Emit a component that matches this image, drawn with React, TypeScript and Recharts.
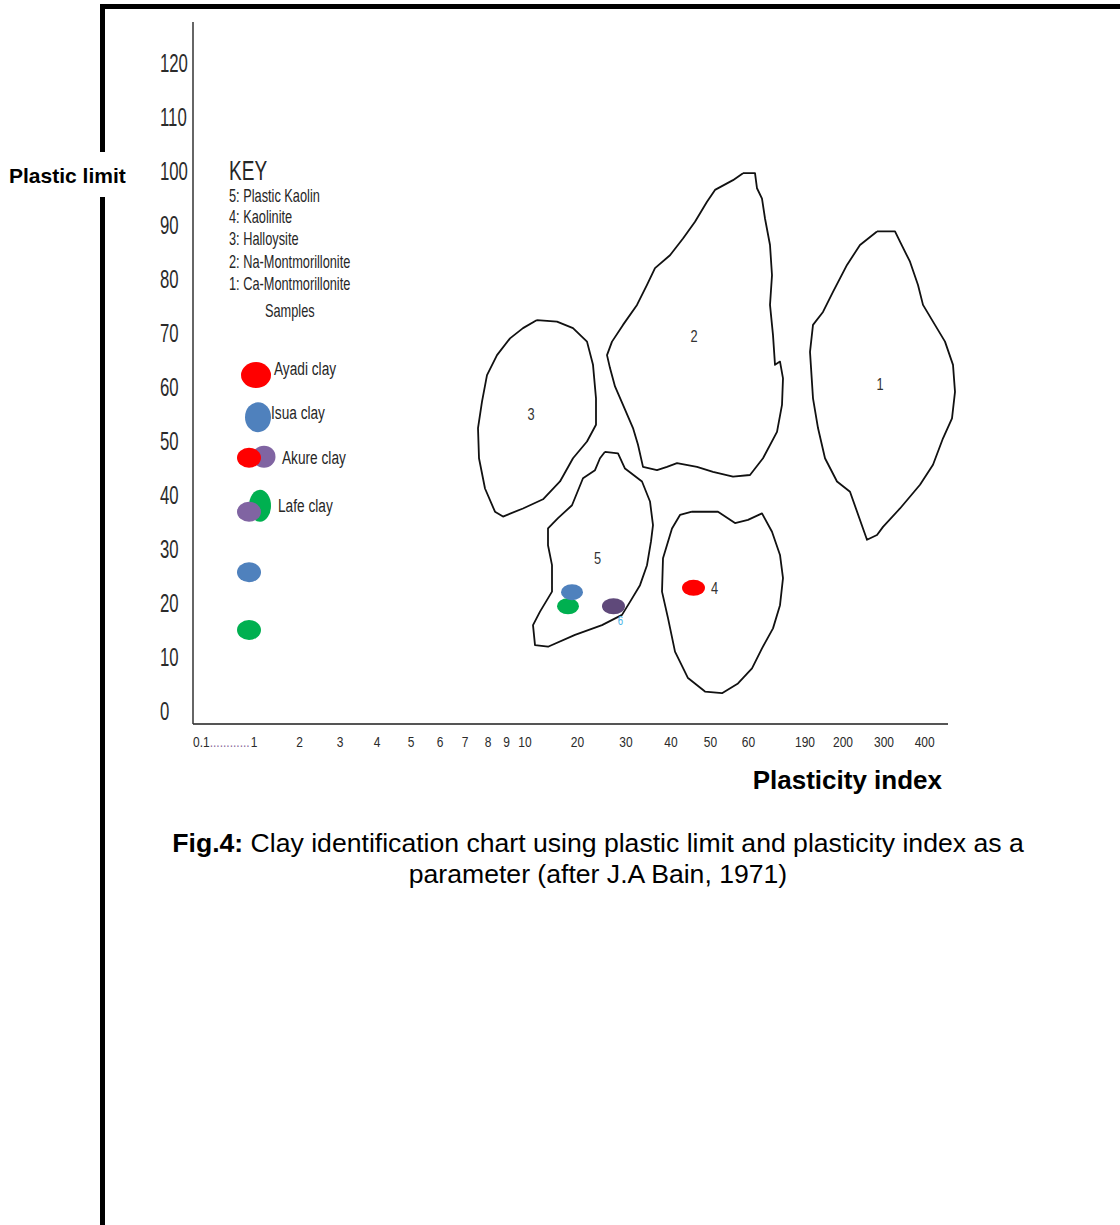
import React from 'react'
import { ScatterChart, Scatter, XAxis, YAxis, ReferenceLine } from 'recharts'

// x axis of the original is hand-spaced, so positions are in "axis units" along the bar
const xTickLabels = ['0.1', '1', '2', '3', '4', '5', '6', '7', '8', '9', '10', '20', '30', '40', '50', '60', '190', '200', '300', '400']
const xTickAt = [0, 61, 106.5, 147, 184, 218, 247, 272, 295, 313.7, 332, 384.5, 433, 478, 517.5, 555.5, 612, 650, 691, 731.7]
const yTicks = [0, 10, 20, 30, 40, 50, 60, 70, 80, 90, 100, 110, 120]

// traced outlines of the mineral fields (axis units, plastic limit)
const field1: [number, number][] = [
  [684, 88.8], [702, 88.8], [707, 86.9], [717, 83.2], [725, 78.9], [730, 75.2], [740, 72.1], [752, 68.4],
  [760, 64.1], [762, 59.1], [759, 54.2], [750, 50.5], [740, 45.6], [727, 41.9], [707, 37.5], [690, 34.1],
  [684, 32.6], [674, 31.7], [670, 33.8], [657, 40.6], [644, 42.5], [632, 46.8], [625, 52.4], [620, 57.9],
  [617, 66.5], [620, 71.5], [630, 73.9], [640, 77.6], [654, 82.6], [667, 86.3],
]
const field2: [number, number][] = [
  [550, 99.6], [562, 99.6], [564, 96.8], [569, 94.9], [572, 91.2], [577, 86.3], [579, 80.7], [577, 75.2],
  [580, 69.6], [582, 64.1], [587, 64.7], [590, 61.6], [589, 56.7], [584, 51.7], [570, 46.8], [557, 43.7],
  [540, 43.4], [520, 44.3], [504, 45.2], [484, 45.9], [474, 45.2], [464, 44.6], [450, 45.2], [445, 49.3],
  [440, 52.4], [430, 56.7], [422, 60.1], [417, 63.5], [414, 65.9], [419, 68.4], [430, 71.5], [444, 75.2],
  [454, 78.9], [462, 82.0], [477, 84.4], [490, 87.5], [502, 90.6], [514, 94.3], [522, 96.5], [540, 98.3],
]
const field3: [number, number][] = [
  [344, 72.4], [364, 72.1], [380, 70.9], [394, 68.4], [400, 64.1], [403, 57.9], [403, 53.0], [394, 49.9],
  [380, 46.8], [367, 42.5], [350, 39.2], [330, 37.5], [310, 36.0], [302, 36.9], [292, 41.2], [286, 46.8],
  [285, 52.4], [289, 57.3], [294, 62.2], [304, 65.9], [317, 69.0], [330, 70.9],
]
const field4: [number, number][] = [
  [499, 36.9], [525, 36.9], [542, 34.8], [555, 35.4], [569, 36.6], [579, 33.2], [587, 28.9], [590, 24.6],
  [587, 19.6], [580, 15.3], [569, 11.6], [559, 7.9], [545, 5.1], [529, 3.3], [512, 3.6], [495, 6.1],
  [482, 11.0], [475, 17.2], [469, 22.1], [470, 28.3], [479, 33.8], [487, 36.3],
]
const field5: [number, number][] = [
  [412, 48.0], [425, 47.7], [432, 44.9], [449, 42.5], [457, 38.8], [460, 34.4], [458, 31.4], [454, 27.0],
  [447, 23.3], [437, 20.2], [429, 17.8], [409, 15.9], [382, 14.1], [355, 11.9], [342, 12.2], [340, 15.9],
  [347, 18.4], [359, 22.1], [359, 27.0], [355, 30.7], [355, 33.8], [365, 35.7], [379, 38.1], [390, 43.1],
  [402, 44.6], [407, 46.8],
]

// sample markers
const redPoints = [
  { id: 'ayadiKey', x: 63, y: 62.2 },
  { id: 'akureKeyRed', x: 56, y: 46.9 },
  { id: 'kaoliniteRed', x: 500.5, y: 22.8 },
]
const bluePoints = [
  { id: 'isuaKey', x: 65, y: 54.4 },
  { id: 'blueLow', x: 56, y: 25.7 },
  { id: 'kaolinBlue', x: 379, y: 22.0 },
]
const greenPoints = [
  { id: 'lafeKey', x: 67, y: 38.0 },
  { id: 'greenLow', x: 56, y: 15.0 },
  { id: 'kaolinGreen', x: 375, y: 19.4 },
]
const purplePoints = [
  { id: 'akureKeyPurple', x: 71, y: 47.1 },
  { id: 'lafeKeyPurple', x: 56, y: 36.9 },
]
const darkPurplePoints = [{ id: 'kaolinPurple', x: 420.5, y: 19.4 }]

// ellipse radii (px) per marker
const radii: Record<string, [number, number]> = {
  ayadiKey: [15, 13],
  akureKeyRed: [12, 10],
  kaoliniteRed: [11.5, 8],
  isuaKey: [13, 15],
  blueLow: [12, 10],
  kaolinBlue: [11, 8],
  lafeKey: [11, 16],
  greenLow: [12, 10],
  kaolinGreen: [11, 8],
  akureKeyPurple: [11.5, 11],
  lafeKeyPurple: [12, 10],
  kaolinPurple: [11.5, 8],
}

const FONT = 'Liberation Sans, Arial, Helvetica, sans-serif'

const loop = (pts: [number, number][]) => [...pts, pts[0]].map(([x, y]) => ({ x, y }))

const Narrow = ({ x, y, size, sx = 0.72, anchor = 'start', fill = '#262626', children }: any) => (
  <text
    transform={`translate(${x} ${y}) scale(${sx} 1)`}
    textAnchor={anchor}
    fontFamily={FONT}
    fontSize={size}
    fill={fill}
  >
    {children}
  </text>
)

const ellipse = (color: string) => (props: any) => {
  const { cx, cy, payload } = props
  const [rx, ry] = radii[payload.id] || [12, 10]
  return <ellipse cx={cx} cy={cy} rx={rx} ry={ry} fill={color} />
}

const NoDot = () => <g />

const XTick = (props: any) => {
  const { x, y, index } = props
  if (index === 0) {
    return (
      <text transform={`translate(${x} ${y + 23}) scale(0.8 1)`} fontFamily={FONT} fontSize={15} fill='#2b2b2b'>
        0.1<tspan fill='#8a6a9a'>............</tspan>
      </text>
    )
  }
  return (
    <Narrow x={x} y={y + 23} size={15} sx={0.8} anchor='middle' fill='#2b2b2b'>
      {xTickLabels[index]}
    </Narrow>
  )
}

const YTick = (props: any) => {
  const { x, y, payload } = props
  return (
    <Narrow x={x - 33} y={y + 9} size={25} sx={0.67} fill='#2b2b2b'>
      {payload.value}
    </Narrow>
  )
}

const outline = { stroke: '#111', strokeWidth: 1.8, strokeLinejoin: 'round' as const }

export default function App() {
  return (
    <div style={{ position: 'absolute', left: 0, top: 0, width: 1120, height: 1225, background: '#fff' }}>
      <ScatterChart width={1120} height={1225} margin={{ top: 22, right: 157, bottom: 471, left: 133 }}>
        <XAxis
          type='number'
          dataKey='x'
          domain={[0, 770]}
          ticks={xTickAt}
          interval={0}
          axisLine={false}
          tickLine={false}
          tickSize={0}
          tickMargin={0}
          height={30}
          tick={<XTick />}
        />
        <YAxis
          type='number'
          dataKey='y'
          domain={[-2.41, 127.59]}
          ticks={yTicks}
          interval={0}
          width={60}
          tickLine={false}
          tickSize={0}
          tickMargin={0}
          axisLine={{ stroke: '#333', strokeWidth: 1.5 }}
          tick={<YTick />}
        />
        <ReferenceLine
          segment={[{ x: 0, y: -2.41 }, { x: 755, y: -2.41 }]}
          stroke='#555'
          strokeWidth={2}
          ifOverflow='visible'
        />
        <Scatter data={loop(field1)} line={outline} shape={<NoDot />} isAnimationActive={false} />
        <Scatter data={loop(field2)} line={outline} shape={<NoDot />} isAnimationActive={false} />
        <Scatter data={loop(field3)} line={outline} shape={<NoDot />} isAnimationActive={false} />
        <Scatter data={loop(field4)} line={outline} shape={<NoDot />} isAnimationActive={false} />
        <Scatter data={loop(field5)} line={outline} shape={<NoDot />} isAnimationActive={false} />
        <Scatter data={greenPoints} shape={ellipse('#00b050')} isAnimationActive={false} />
        <Scatter data={purplePoints} shape={ellipse('#8064a2')} isAnimationActive={false} />
        <Scatter data={redPoints} shape={ellipse('#ff0000')} isAnimationActive={false} />
        <Scatter data={bluePoints} shape={ellipse('#4f81bd')} isAnimationActive={false} />
        <Scatter data={darkPurplePoints} shape={ellipse('#5f497a')} isAnimationActive={false} />
      </ScatterChart>

      <svg width={1120} height={1225} style={{ position: 'absolute', left: 0, top: 0, pointerEvents: 'none' }}>
        {/* page frame */}
        <rect x={100} y={4} width={1020} height={5} fill='#000' />
        <rect x={100} y={4} width={5} height={148} fill='#000' />
        <rect x={100} y={197} width={5} height={1028} fill='#000' />

        <text x={9} y={182.5} fontFamily={FONT} fontSize={21} fontWeight='bold' fill='#000'>
          Plastic limit
        </text>
        <text x={942} y={789} textAnchor='end' fontFamily={FONT} fontSize={26} fontWeight='bold' fill='#000'>
          Plasticity index
        </text>

        <text x={598} y={852} textAnchor='middle' fontFamily={FONT} fontSize={26.6} fill='#000'>
          <tspan fontWeight='bold'>Fig.4:</tspan> Clay identification chart using plastic limit and plasticity index as a
        </text>
        <text x={598} y={883} textAnchor='middle' fontFamily={FONT} fontSize={26.6} fill='#000'>
          parameter (after J.A Bain, 1971)
        </text>

        {/* key */}
        <Narrow x={229} y={180} size={28} sx={0.68}>KEY</Narrow>
        <Narrow x={229} y={201.5} size={18} sx={0.71}>5: Plastic Kaolin</Narrow>
        <Narrow x={229} y={223} size={18} sx={0.71}>4: Kaolinite</Narrow>
        <Narrow x={229} y={245} size={18} sx={0.71}>3: Halloysite</Narrow>
        <Narrow x={229} y={268} size={18} sx={0.71}>2: Na-Montmorillonite</Narrow>
        <Narrow x={229} y={290} size={18} sx={0.71}>1: Ca-Montmorillonite</Narrow>
        <Narrow x={265} y={317} size={18} sx={0.71}>Samples</Narrow>
        <Narrow x={274} y={375} size={19} sx={0.72}>Ayadi clay</Narrow>
        <Narrow x={271} y={419} size={19} sx={0.72}>Isua clay</Narrow>
        <Narrow x={282} y={464} size={19} sx={0.72}>Akure clay</Narrow>
        <Narrow x={278} y={511.5} size={19} sx={0.72}>Lafe clay</Narrow>

        {/* field numbers */}
        <Narrow x={880} y={390} size={16} sx={0.8} anchor='middle' fill='#333'>1</Narrow>
        <Narrow x={694} y={341.5} size={16} sx={0.8} anchor='middle' fill='#333'>2</Narrow>
        <Narrow x={531} y={420} size={16} sx={0.8} anchor='middle' fill='#333'>3</Narrow>
        <Narrow x={714.5} y={594} size={16} sx={0.8} anchor='middle' fill='#333'>4</Narrow>
        <Narrow x={597.5} y={564} size={16} sx={0.8} anchor='middle' fill='#333'>5</Narrow>
        <Narrow x={620.5} y={625} size={12} sx={0.8} anchor='middle' fill='#4ab3e6'>6</Narrow>
      </svg>
    </div>
  )
}
